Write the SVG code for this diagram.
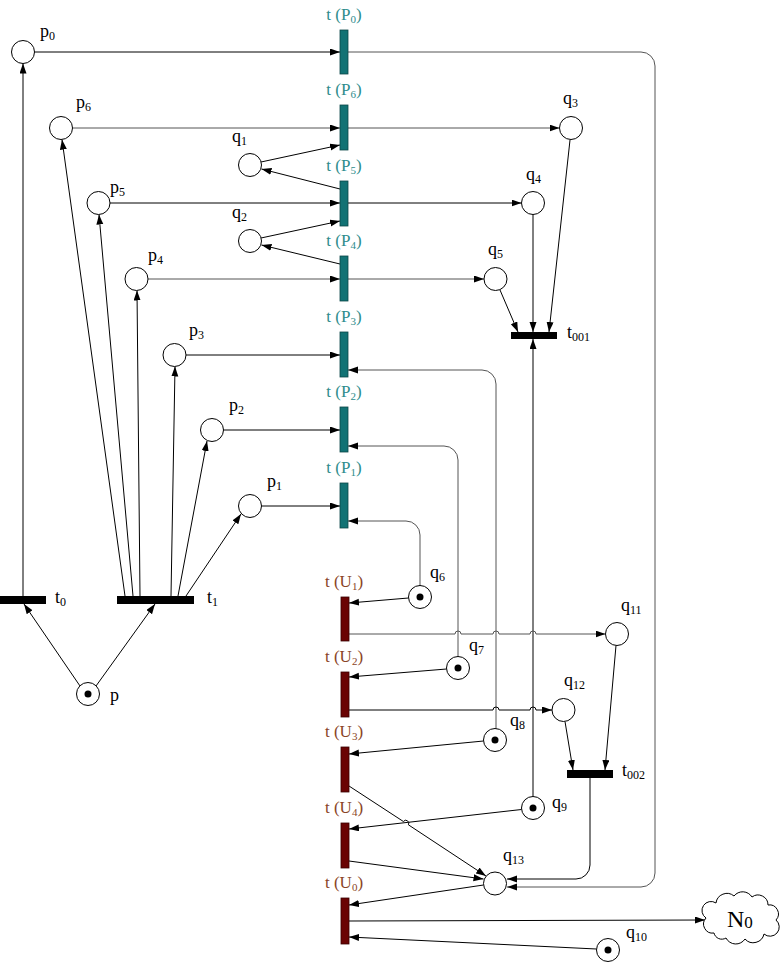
<svg xmlns="http://www.w3.org/2000/svg" width="780" height="962" viewBox="0 0 780 962">
<defs>
<marker id="ah" markerUnits="userSpaceOnUse" markerWidth="10" markerHeight="8" refX="10" refY="3.5" orient="auto"><path d="M0,0 L10,3.5 L0,7 z" fill="#000"/></marker>
<style>
.pl{fill:#fff;stroke:#000;stroke-width:1}
.tok{fill:#000}
.tb{fill:#000}
.tp{fill:#127274;stroke:#0b4648;stroke-width:0.8}
.tu{fill:#6a0303;stroke:#3a0000;stroke-width:0.8}
text{font-family:'Liberation Serif','DejaVu Serif',serif}
.lb{font-size:18px;fill:#000}
.lp{font-size:17px;fill:#2e8c8c;text-anchor:middle}
.lu{font-size:17px;fill:#8a4526;text-anchor:middle}
.s{font-size:12px}
.s2{font-size:11px}
.c{fill:none;stroke:#000;stroke-width:1;marker-end:url(#ah)}
.g{stroke:#555}
</style>
</defs>
<rect width="780" height="962" fill="#fff"/>
<g id="connectors">
<path class="c" d="M34.5,52 H340"/>
<path class="c g" d="M348,52 H641 a14,14 0 0 1 14,14 V873 a14,14 0 0 1 -14,14 H507"/>
<path class="c g" d="M72.5,128 H340"/>
<path class="c g" d="M348,128 H559.5"/>
<path class="c" d="M261,162 L340,145"/>
<path class="c" d="M340,189 L261.5,169"/>
<path class="c" d="M110,203 H340"/>
<path class="c" d="M348,203 H521.5"/>
<path class="c" d="M261,238 L340,221"/>
<path class="c" d="M340,264 L261.5,245"/>
<path class="c g" d="M148,279 H340"/>
<path class="c g" d="M348,279 H484"/>
<path class="c" d="M186,355 H340"/>
<path class="c" d="M223.5,430 H340"/>
<path class="c" d="M261.5,506 H340"/>
<path class="c g" d="M496,729 V384 a14,14 0 0 0 -14,-14 H348"/>
<path class="c g" d="M458,657 V460 a14,14 0 0 0 -14,-14 H348"/>
<path class="c g" d="M420,586 V535 a14,14 0 0 0 -14,-14 H348"/>
<path class="c" d="M570,140 L549,332"/>
<path class="c" d="M533,214.5 V332"/>
<path class="c" d="M500,290 L518,332"/>
<path class="c" d="M533,796.5 V339"/>
<path class="c" d="M408.5,598 L349,603"/>
<path class="c g" d="M349,634 H455 a3,3 0 0 1 6,0 H493 a3,3 0 0 1 6,0 H530 a3,3 0 0 1 6,0 H605.5"/>
<path class="c" d="M446.5,669 L349,677"/>
<path class="c" d="M349,710 H493 a3,3 0 0 1 6,0 H530 a3,3 0 0 1 6,0 H552"/>
<path class="c" d="M483.5,741 L349,754"/>
<path class="c" d="M349,786 L403.4,821.5 a3,3 0 0 1 5,3.3 L486,876"/>
<path class="c" d="M521.5,809.5 L349,829"/>
<path class="c" d="M349,861 L483.5,879"/>
<path class="c" d="M616,645.5 L605,770"/>
<path class="c" d="M565,721.5 L573,770"/>
<path class="c" d="M590,778 V865 a14,14 0 0 1 -14,14 H507"/>
<path class="c" d="M483.5,885 L349,905"/>
<path class="c" d="M349,921 L705,920"/>
<path class="c" d="M596.5,949 L349,937"/>
<path class="c" d="M80,686 L24,604"/>
<path class="c" d="M96,686 L155,604"/>
<path class="c" d="M23,596 V63.5"/>
<path class="c" d="M125,596 L62,139.5"/>
<path class="c" d="M133,596 L99,214.5"/>
<path class="c" d="M140,596 L137,290.5"/>
<path class="c" d="M171,596 L175,366.5"/>
<path class="c" d="M178,596 L207,441"/>
<path class="c" d="M186,596 L241,514"/>
</g>
<g id="p0"><circle class="pl" cx="23" cy="52" r="11.5"/><text class="lb" x="40" y="37">p<tspan class="s" dy="3">0</tspan></text></g>
<g id="p6"><circle class="pl" cx="61" cy="128" r="11.5"/><text class="lb" x="76" y="108">p<tspan class="s" dy="3">6</tspan></text></g>
<g id="p5"><circle class="pl" cx="98.5" cy="203" r="11.5"/><text class="lb" x="110" y="193">p<tspan class="s" dy="3">5</tspan></text></g>
<g id="p4"><circle class="pl" cx="136.5" cy="279" r="11.5"/><text class="lb" x="148" y="261">p<tspan class="s" dy="3">4</tspan></text></g>
<g id="p3"><circle class="pl" cx="174.5" cy="355" r="11.5"/><text class="lb" x="189" y="336">p<tspan class="s" dy="3">3</tspan></text></g>
<g id="p2"><circle class="pl" cx="212" cy="430" r="11.5"/><text class="lb" x="229" y="411">p<tspan class="s" dy="3">2</tspan></text></g>
<g id="p1"><circle class="pl" cx="250" cy="506" r="11.5"/><text class="lb" x="267" y="487">p<tspan class="s" dy="3">1</tspan></text></g>
<g id="p"><circle class="pl" cx="88" cy="694" r="11.5"/><circle class="tok" cx="88" cy="694" r="3.5"/><text class="lb" x="110" y="701">p</text></g>
<g id="q1"><circle class="pl" cx="250" cy="165" r="11.5"/><text class="lb" x="232" y="142">q<tspan class="s" dy="3">1</tspan></text></g>
<g id="q2"><circle class="pl" cx="250" cy="241" r="11.5"/><text class="lb" x="232" y="218">q<tspan class="s" dy="3">2</tspan></text></g>
<g id="q3"><circle class="pl" cx="571" cy="128" r="11.5"/><text class="lb" x="563" y="104">q<tspan class="s" dy="3">3</tspan></text></g>
<g id="q4"><circle class="pl" cx="533" cy="203" r="11.5"/><text class="lb" x="526" y="180">q<tspan class="s" dy="3">4</tspan></text></g>
<g id="q5"><circle class="pl" cx="495.5" cy="279" r="11.5"/><text class="lb" x="488" y="255">q<tspan class="s" dy="3">5</tspan></text></g>
<g id="q6"><circle class="pl" cx="420" cy="597" r="11.5"/><circle class="tok" cx="420" cy="597" r="3.5"/><text class="lb" x="430" y="578">q<tspan class="s" dy="3">6</tspan></text></g>
<g id="q7"><circle class="pl" cx="458" cy="668" r="11.5"/><circle class="tok" cx="458" cy="668" r="3.5"/><text class="lb" x="469" y="651">q<tspan class="s" dy="3">7</tspan></text></g>
<g id="q8"><circle class="pl" cx="495" cy="740" r="11.5"/><circle class="tok" cx="495" cy="740" r="3.5"/><text class="lb" x="510" y="726">q<tspan class="s" dy="3">8</tspan></text></g>
<g id="q9"><circle class="pl" cx="533" cy="808" r="11.5"/><circle class="tok" cx="533" cy="808" r="3.5"/><text class="lb" x="552" y="808">q<tspan class="s" dy="3">9</tspan></text></g>
<g id="q10"><circle class="pl" cx="608" cy="950" r="11.5"/><circle class="tok" cx="608" cy="950" r="3.5"/><text class="lb" x="626" y="938">q<tspan class="s" dy="3">10</tspan></text></g>
<g id="q11"><circle class="pl" cx="617" cy="634" r="11.5"/><text class="lb" x="621" y="611">q<tspan class="s" dy="3">11</tspan></text></g>
<g id="q12"><circle class="pl" cx="563.5" cy="710" r="11.5"/><text class="lb" x="564" y="686">q<tspan class="s" dy="3">12</tspan></text></g>
<g id="q13"><circle class="pl" cx="495" cy="883.5" r="11.5"/><text class="lb" x="503" y="861">q<tspan class="s" dy="3">13</tspan></text></g>
<g id="N0"><path d="M714,933 A9,9 0 0 1 706,918 A9,9 0 0 1 716,903 A11,11 0 0 1 734,896 A11,11 0 0 1 752,897 A10,10 0 0 1 768,905 A9,9 0 0 1 776,920 A9,9 0 0 1 764,934 A11,11 0 0 1 745,939 A11,11 0 0 1 726,938 A8,8 0 0 1 714,933 Z" fill="#fff" stroke="#000" stroke-width="1"/><text class="lb" x="727" y="927" style="font-size:24px">N<tspan style="font-size:17px" dy="1">0</tspan></text></g>
<g id="t0"><rect class="tb" x="0" y="596" width="46" height="8"/><text class="lb" x="55" y="603">t<tspan class="s" dy="3">0</tspan></text></g>
<g id="t1"><rect class="tb" x="117" y="596" width="77" height="8"/><text class="lb" x="207" y="603">t<tspan class="s" dy="3">1</tspan></text></g>
<g id="t001"><rect class="tb" x="511" y="332" width="46" height="7"/><text class="lb" x="567" y="338">t<tspan class="s" dy="3">001</tspan></text></g>
<g id="t002"><rect class="tb" x="567" y="770" width="46" height="8"/><text class="lb" x="622" y="776">t<tspan class="s" dy="3">002</tspan></text></g>
<g id="tP0"><rect class="tp" x="340" y="30" width="8" height="44"/><text class="lp" x="344" y="20">t (P<tspan class="s2" dy="3">0</tspan><tspan dy="-3">)</tspan></text></g>
<g id="tP6"><rect class="tp" x="340" y="105" width="8" height="45"/><text class="lp" x="344" y="95">t (P<tspan class="s2" dy="3">6</tspan><tspan dy="-3">)</tspan></text></g>
<g id="tP5"><rect class="tp" x="340" y="181" width="8" height="45"/><text class="lp" x="344" y="171">t (P<tspan class="s2" dy="3">5</tspan><tspan dy="-3">)</tspan></text></g>
<g id="tP4"><rect class="tp" x="340" y="256" width="8" height="45"/><text class="lp" x="344" y="246">t (P<tspan class="s2" dy="3">4</tspan><tspan dy="-3">)</tspan></text></g>
<g id="tP3"><rect class="tp" x="340" y="332" width="8" height="45"/><text class="lp" x="344" y="322">t (P<tspan class="s2" dy="3">3</tspan><tspan dy="-3">)</tspan></text></g>
<g id="tP2"><rect class="tp" x="340" y="407" width="8" height="45"/><text class="lp" x="344" y="397">t (P<tspan class="s2" dy="3">2</tspan><tspan dy="-3">)</tspan></text></g>
<g id="tP1"><rect class="tp" x="340" y="483" width="8" height="45"/><text class="lp" x="344" y="473">t (P<tspan class="s2" dy="3">1</tspan><tspan dy="-3">)</tspan></text></g>
<g id="tU1"><rect class="tu" x="341" y="597" width="8" height="44"/><text class="lu" x="344" y="587">t (U<tspan class="s2" dy="3">1</tspan><tspan dy="-3">)</tspan></text></g>
<g id="tU2"><rect class="tu" x="341" y="672" width="8" height="45"/><text class="lu" x="344" y="662">t (U<tspan class="s2" dy="3">2</tspan><tspan dy="-3">)</tspan></text></g>
<g id="tU3"><rect class="tu" x="341" y="747" width="8" height="45"/><text class="lu" x="344" y="737">t (U<tspan class="s2" dy="3">3</tspan><tspan dy="-3">)</tspan></text></g>
<g id="tU4"><rect class="tu" x="341" y="823" width="8" height="45"/><text class="lu" x="344" y="813">t (U<tspan class="s2" dy="3">4</tspan><tspan dy="-3">)</tspan></text></g>
<g id="tU0"><rect class="tu" x="341" y="898" width="8" height="46"/><text class="lu" x="344" y="888">t (U<tspan class="s2" dy="3">0</tspan><tspan dy="-3">)</tspan></text></g>
</svg>
